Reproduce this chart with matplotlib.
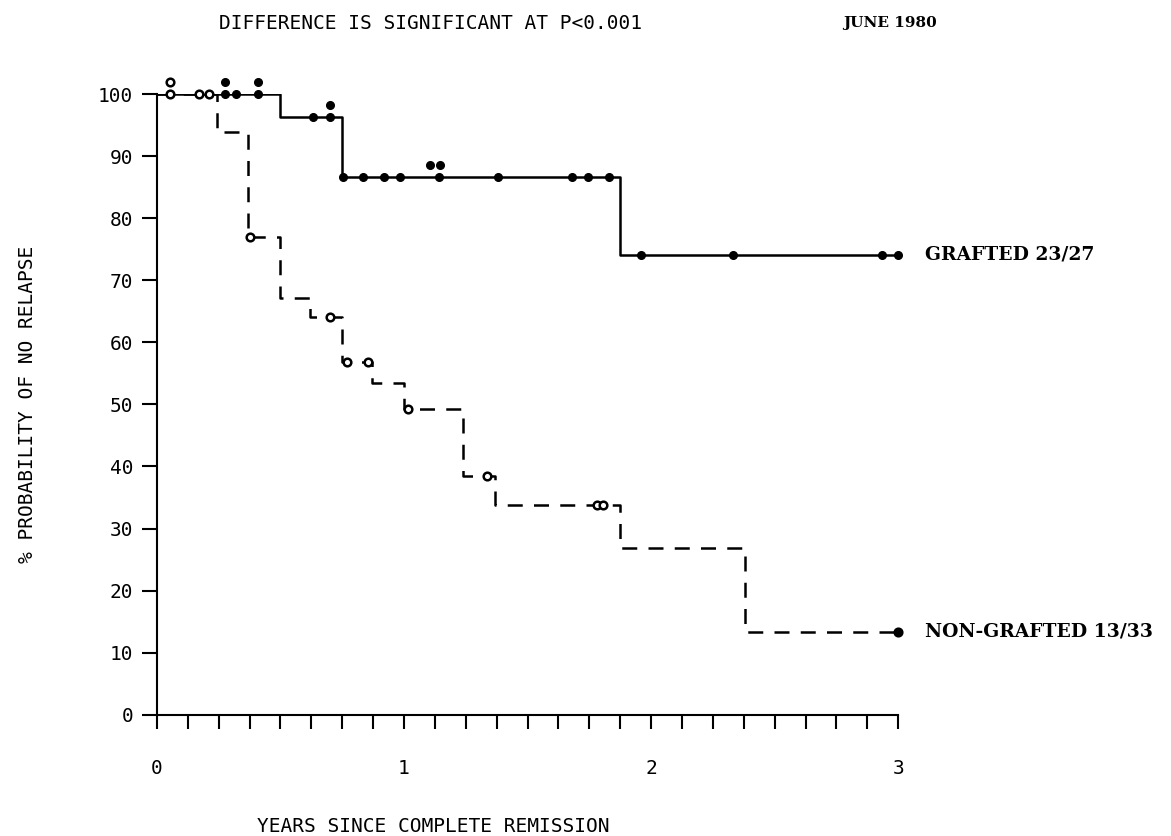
import matplotlib.pyplot as plt
import numpy as np

# Kaplan-Meier steps
grafted_t = [0, 0.50, 0.75, 1.875, 3.0]
grafted_s = [100, 96.3, 86.7, 74.1, 74.1]
grafted_cens = [0.275, 0.275, 0.32, 0.41, 0.41, 0.63, 0.70, 0.70,
                0.755, 0.835, 0.92, 0.985, 1.14, 1.105, 1.145, 1.38,
                1.68, 1.745, 1.83, 1.96, 2.33, 2.935, 3.0]

nongraft_t = [0, 0.245, 0.37, 0.50, 0.62, 0.75, 0.87, 1.0, 1.24, 1.37,
              1.875, 2.38, 3.0]
nongraft_s = [100, 93.9, 76.9, 67.2, 64.1, 56.9, 53.5, 49.3, 38.5, 33.8,
              26.8, 13.4, 13.4]
nongraft_cens = [0.053, 0.053, 0.17, 0.21, 0.376, 0.70, 0.77, 0.855,
                 1.015, 1.335, 1.78, 1.805, 3.0]

yticks = [0, 10, 20, 30, 40, 50, 60, 70, 80, 90, 100]
xticks = [0, 1, 2, 3]

mono = 'DejaVu Sans Mono'
serif = 'DejaVu Serif'


def surv_at(t, ts, ss):
    idx = np.searchsorted(ts, t, side='right') - 1
    return ss[idx]


def stack_levels(times, tol):
    # a censor mark close to an earlier one gets drawn one level above
    lv = []
    for i, t in enumerate(times):
        lv.append(1 if any(abs(t - p) < tol for p in times[:i]) else 0)
    return lv


fig = plt.figure(figsize=(11.71, 8.36), dpi=100)
ax = fig.add_axes([0.134, 0.145, 0.633, 0.7425])

ax.step(grafted_t, grafted_s, where='post', color='black', lw=1.8)
ax.step(nongraft_t, nongraft_s, where='post', color='black', lw=1.8,
        linestyle=(0, (6, 4.5)))

# censor marks
off = 1.9
for t, lv in zip(grafted_cens, stack_levels(grafted_cens, 0.04)):
    y = surv_at(t, grafted_t, grafted_s) + lv * off
    ax.plot(t, y, 'o', color='black', ms=5.5, clip_on=False, zorder=4)

for t, lv in zip(nongraft_cens, stack_levels(nongraft_cens, 0.01)):
    y = surv_at(t, nongraft_t, nongraft_s) + lv * off
    fc = 'black' if t >= 3.0 else 'white'
    ax.plot(t, y, 'o', mfc=fc, mec='black', mew=1.8, ms=5.5,
            clip_on=False, zorder=4)

ax.set_xlim(0, 3)
ax.set_ylim(0, 100)
ax.spines['top'].set_visible(False)
ax.spines['right'].set_visible(False)
ax.spines['left'].set_linewidth(1.5)
ax.spines['bottom'].set_linewidth(1.5)

ax.set_yticks(yticks)
ax.set_xticks(xticks)
ax.set_xticks(np.arange(0, 3.01, 0.125), minor=True)
ax.tick_params(axis='y', direction='out', length=11, width=1.5, pad=6,
               labelsize=14)
ax.tick_params(axis='x', which='major', direction='out', length=10,
               width=1.5, pad=22, labelsize=14)
ax.tick_params(axis='x', which='minor', direction='out', length=10,
               width=1.5)
for lab in ax.get_xticklabels() + ax.get_yticklabels():
    lab.set_family(mono)

ax.set_ylabel('% PROBABILITY OF NO RELAPSE', family=mono, fontsize=14,
              labelpad=44)

fig.text(0.368, 0.972, 'DIFFERENCE IS SIGNIFICANT AT P<0.001', family=mono,
         fontsize=14, ha='center', va='center')
fig.text(0.72, 0.972, 'JUNE 1980', family=serif, fontweight='bold',
         fontsize=11, ha='left', va='center')
fig.text(0.37, 0.011, 'YEARS SINCE COMPLETE REMISSION', family=mono,
         fontsize=14, ha='center', va='center')

ax.text(3.11, grafted_s[-1], 'GRAFTED 23/27', family=serif,
        fontweight='bold', fontsize=13.5, va='center', ha='left')
ax.text(3.11, nongraft_s[-1], 'NON-GRAFTED 13/33', family=serif,
        fontweight='bold', fontsize=13.5, va='center', ha='left')

fig.savefig('out.png', dpi=100)
